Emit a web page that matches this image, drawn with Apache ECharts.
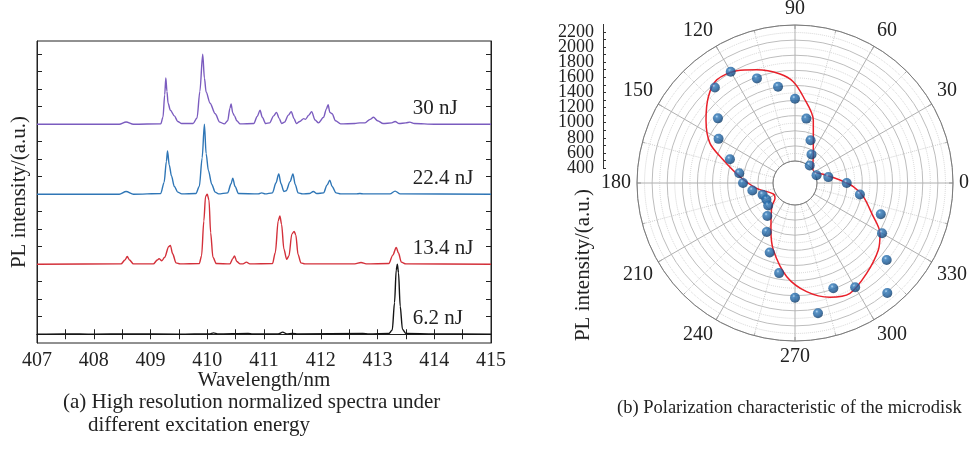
<!DOCTYPE html>
<html>
<head>
<meta charset="utf-8">
<script src="https://cdn.jsdelivr.net/npm/echarts@6/dist/echarts.min.js"></script>
<style>
  html, body { margin: 0; padding: 0; background: #fff; }
  #main { width: 970px; height: 450px; }
</style>
</head>
<body>
<div id="main"></div>
<script>
// ---- (a) spectra, normalized intensity, [wavelength nm, I] ----
var traceNames = ['6.2 nJ', '13.4 nJ', '22.4 nJ', '30 nJ'];
var traceColors = ['#141414', '#d3303a', '#2f76b6', '#7b5cbf'];
var traceOffsets = [0, 1, 2, 3];

var spec62 = [
  [407, 0], [407.5, 0.005], [408, 0], [408.6, 0.005], [409.5, 0], [410.05, 0.005], [410.11, 0.02], [410.18, 0.005],
  [410.72, 0.012], [410.8, 0.003], [411.25, 0.005], [411.33, 0.03], [411.4, 0.005], [411.5, 0.012], [411.6, 0.004],
  [412.74, 0.012], [412.85, 0.005], [413.2, 0.01], [413.26, 0.06], [413.3, 0.45], [413.33, 0.92], [413.35, 1.0],
  [413.37, 0.88], [413.4, 0.4], [413.44, 0.07], [413.5, 0.01], [414, 0.005], [415, 0]
];
var spec134 = [
  [407, 0], [408.48, 0.005], [408.55, 0.06], [408.59, 0.11], [408.63, 0.06], [408.7, 0.005],
  [409.05, 0.005], [409.12, 0.06], [409.15, 0.08], [409.2, 0.05], [409.25, 0.1], [409.32, 0.25], [409.35, 0.27],
  [409.39, 0.15], [409.45, 0.02], [409.52, 0.005],
  [409.86, 0.01], [409.9, 0.12], [409.94, 0.62], [409.97, 0.97], [410.0, 1.0], [410.03, 0.92], [410.06, 0.45],
  [410.1, 0.1], [410.16, 0.01],
  [410.4, 0.005], [410.45, 0.08], [410.48, 0.12], [410.52, 0.04], [410.58, 0.005],
  [410.63, 0.005], [410.69, 0.03], [410.75, 0.005],
  [411.15, 0.01], [411.2, 0.17], [411.25, 0.62], [411.28, 0.69], [411.31, 0.57], [411.35, 0.22], [411.4, 0.07],
  [411.44, 0.12], [411.49, 0.43], [411.53, 0.47], [411.56, 0.42], [411.6, 0.14], [411.65, 0.02], [411.72, 0.005],
  [412.6, 0.005], [412.71, 0.025], [412.8, 0.005],
  [413.2, 0.01], [413.27, 0.13], [413.33, 0.24], [413.37, 0.16], [413.42, 0.03], [413.5, 0.005], [415, 0]
];
var spec224 = [
  [407, 0], [408.45, 0], [408.57, 0.04], [408.7, 0],
  [409.18, 0.01], [409.24, 0.17], [409.28, 0.47], [409.3, 0.62], [409.33, 0.42], [409.37, 0.26], [409.42, 0.11],
  [409.48, 0.03], [409.55, 0.005],
  [409.8, 0.01], [409.86, 0.11], [409.91, 0.52], [409.95, 1.0], [409.98, 0.58], [410.02, 0.34], [410.08, 0.14],
  [410.14, 0.03], [410.2, 0.005],
  [410.36, 0.02], [410.42, 0.15], [410.45, 0.23], [410.49, 0.11], [410.55, 0.01],
  [410.9, 0.005], [410.96, 0.02], [411.02, 0.005],
  [411.15, 0.02], [411.21, 0.16], [411.26, 0.29], [411.3, 0.15], [411.35, 0.04], [411.39, 0.05], [411.46, 0.18],
  [411.51, 0.29], [411.55, 0.14], [411.6, 0.02], [411.68, 0.005],
  [411.8, 0.01], [411.87, 0.04], [411.93, 0.01],
  [412.05, 0.02], [412.11, 0.13], [412.16, 0.2], [412.2, 0.11], [412.27, 0.02], [412.35, 0.005],
  [412.62, 0.005], [412.69, 0.01], [412.76, 0.005],
  [413.22, 0.005], [413.31, 0.045], [413.4, 0.005], [415, 0]
];
var spec30 = [
  [407, 0], [408.45, 0], [408.57, 0.033], [408.7, 0],
  [409.18, 0.005], [409.22, 0.1], [409.25, 0.42], [409.27, 0.66], [409.29, 0.47], [409.31, 0.3], [409.35, 0.2],
  [409.42, 0.12], [409.48, 0.04], [409.55, 0.01],
  [409.75, 0.01], [409.82, 0.09], [409.87, 0.47], [409.92, 1.0], [409.95, 0.66], [409.98, 0.46], [410.05, 0.3],
  [410.14, 0.15], [410.22, 0.03], [410.3, 0.005],
  [410.36, 0.05], [410.4, 0.23], [410.42, 0.29], [410.45, 0.16], [410.48, 0.12], [410.52, 0.05], [410.58, 0.005],
  [410.82, 0.01], [410.88, 0.11], [410.93, 0.2], [410.97, 0.1], [411.03, 0.01],
  [411.1, 0.02], [411.17, 0.12], [411.22, 0.17], [411.27, 0.08], [411.31, 0.01],
  [411.36, 0.03], [411.43, 0.13], [411.48, 0.18], [411.53, 0.08], [411.57, 0.01],
  [411.63, 0.04], [411.7, 0.08], [411.73, 0.07], [411.79, 0.13], [411.84, 0.18], [411.9, 0.06], [411.96, 0.02],
  [412.05, 0.1], [412.1, 0.22], [412.13, 0.28], [412.16, 0.17], [412.2, 0.15], [412.26, 0.05], [412.35, 0.005],
  [412.6, 0.01], [412.69, 0.02], [412.78, 0.02], [412.87, 0.07], [412.93, 0.1], [413.0, 0.05], [413.1, 0.01],
  [413.25, 0.02], [413.31, 0.04], [413.38, 0.01], [413.5, 0.02], [413.57, 0.03], [413.65, 0.01], [414, 0], [415, 0]
];
var spectra = [spec62, spec134, spec224, spec30];
var wlTicks = [407, 408, 409, 410, 411, 412, 413, 414, 415];

// ---- (b) polarization: measured points [intensity, angle deg] ----
var polAngles = [0, 10, 20, 30, 40, 50, 60, 70, 80, 90, 100, 110, 120, 130, 140, 150, 160, 170,
  180, 190, 200, 210, 220, 230, 240, 250, 260, 270, 280, 290, 300, 310, 320, 330, 340, 350];
var polValues = [793, 557, 412, 395, 385, 412, 546, 711, 974, 1223, 1403, 1582, 1810, 1759, 1440, 1277, 1025, 858,
  797, 682, 565, 546, 572, 679, 857, 1087, 1320, 1627, 1860, 1591, 1701, 2009, 1693, 1439, 1317, 981];
// fitted curve
var fitAngles = [3.8, 17.1, 30.7, 41.6, 55.2, 66.9, 73.8, 84.5, 91, 97.8, 108.7, 117.4, 127.2, 135.1, 144.7, 155,
  162.2, 173.5, 187.9, 206.9, 217.4, 225.5, 242.9, 252.1, 265, 276.1, 287, 296.5, 308.4, 321.2, 329.4, 338.4,
  348.7, 356.4, 363.8];
var fitValues = [706, 500, 400, 422, 532, 727, 977, 1256, 1450, 1565, 1690, 1783, 1822, 1727, 1552, 1350,
  1105, 842, 621, 430, 442, 548, 808, 1041, 1354, 1555, 1690, 1740, 1635, 1524, 1416, 1201,
  1031, 882, 706];
var radialTicks = [400, 600, 800, 1000, 1200, 1400, 1600, 1800, 2000, 2200];

var FONT = '"Liberation Serif", "Times New Roman", serif';
var chart = echarts.init(document.getElementById('main'));

var yTickVals = [];
for (var i = 0; i <= 16; i++) yTickVals.push(i * 0.25);

var series = spectra.map(function (s, k) {
  return {
    type: 'line',
    xAxisIndex: 0, yAxisIndex: 0,
    data: s.map(function (p) { return [p[0], p[1] + traceOffsets[k]]; }),
    showSymbol: false,
    smooth: 0.3,
    smoothMonotone: 'x',
    lineStyle: { color: traceColors[k], width: 1.4 },
    silent: true,
    z: 3 + k
  };
});

series.push({
  type: 'line',
  coordinateSystem: 'polar',
  data: fitValues.map(function (v, i) { return [v, fitAngles[i]]; }),
  showSymbol: false,
  smooth: 0.3,
  lineStyle: { color: '#e8202a', width: 1.5 },
  z: 5
});
series.push({
  type: 'scatter',
  coordinateSystem: 'polar',
  data: polValues.map(function (v, i) { return [v, polAngles[i]]; }),
  symbolSize: 10,
  itemStyle: {
    color: {
      type: 'radial', x: 0.38, y: 0.32, r: 0.7,
      colorStops: [
        { offset: 0, color: '#a9d0f0' },
        { offset: 0.22, color: '#2f78b8' },
        { offset: 0.7, color: '#165592' },
        { offset: 1, color: '#0b355f' }
      ]
    }
  },
  z: 6
});

var axisText = { fontFamily: FONT, fontSize: 21, color: '#222' };

chart.setOption({
  animation: false,
  grid: [
    { left: 37, top: 41, width: 454, height: 302, show: true, borderColor: '#222', borderWidth: 1, outerBoundsMode: 'none', containLabel: false },
    { left: 603, top: 24.4, width: 10, height: 143.6, outerBoundsMode: 'none', containLabel: false }
  ],
  xAxis: [
    {
      gridIndex: 0, type: 'value', min: 407, max: 415, interval: 0.5, position: 'bottom',
      axisLine: { lineStyle: { color: '#222' } },
      axisTick: { inside: true, length: 5, lineStyle: { color: '#222' } },
      axisLabel: { margin: 8, fontFamily: FONT, fontSize: 20, color: '#222',
        formatter: function (v) { return wlTicks.indexOf(v) >= 0 ? v : ''; } },
      splitLine: { show: false },
      name: 'Wavelength/nm', nameLocation: 'middle', nameGap: 27, nameMoveOverlap: false,
      nameTextStyle: axisText
    },
    {
      gridIndex: 0, type: 'value', min: 407, max: 415, interval: 0.5, position: 'top',
      axisLine: { lineStyle: { color: '#222' } },
      axisTick: { inside: true, length: 5, lineStyle: { color: '#222' } },
      axisLabel: { show: false }, splitLine: { show: false }
    },
    {
      gridIndex: 1, type: 'value', min: 0, max: 1,
      axisLine: { show: false }, axisTick: { show: false }, axisLabel: { show: false }, splitLine: { show: false }
    }
  ],
  yAxis: [
    {
      gridIndex: 0, type: 'value', min: -0.125, max: 4.189, position: 'left',
      axisLine: { lineStyle: { color: '#222' } },
      axisTick: { inside: true, length: 5, customValues: yTickVals, lineStyle: { color: '#222' } },
      axisLabel: { show: false }, splitLine: { show: false },
      name: 'PL intensity/(a.u.)', nameLocation: 'middle', nameGap: 7, nameMoveOverlap: false,
      nameTextStyle: axisText
    },
    {
      gridIndex: 0, type: 'value', min: -0.125, max: 4.189, position: 'right',
      axisLine: { lineStyle: { color: '#222' } },
      axisTick: { inside: true, length: 5, customValues: yTickVals, lineStyle: { color: '#222' } },
      axisLabel: { show: false }, splitLine: { show: false }
    },
    {
      gridIndex: 1, type: 'value', min: 400, max: 2300, interval: 100, position: 'left',
      axisLine: { show: true, onZero: false, lineStyle: { color: '#333', width: 1 } },
      axisTick: { show: true, inside: true, length: 3, lineStyle: { color: '#333' } },
      axisLabel: {
        margin: 9, fontFamily: FONT, fontSize: 18, color: '#222',
        showMinLabel: true, showMaxLabel: false, hideOverlap: false,
        formatter: function (v) { return radialTicks.indexOf(v) >= 0 ? String(v) : ''; }
      },
      splitLine: { show: false }
    }
  ],
  polar: { center: [795, 183], radius: [22, 158] },
  angleAxis: {
    type: 'value', min: 0, max: 360, interval: 30, startAngle: 0, clockwise: false,
    axisLine: { lineStyle: { color: '#7a7a7a', width: 1 } },
    axisTick: { show: true, inside: true, length: 4, lineStyle: { color: '#7a7a7a' } },
    minorTick: { show: true, splitNumber: 2, length: 3, lineStyle: { color: '#9a9a9a' } },
    axisLabel: {
      margin: 6, fontFamily: FONT, fontSize: 20, color: '#222',
      formatter: function (v) { return v >= 360 ? '' : v; }
    },
    splitLine: { show: true, lineStyle: { color: '#b0b0b0', width: 1 } },
    minorSplitLine: { show: true, lineStyle: { color: '#cfcfcf', type: 'dotted' } }
  },
  radiusAxis: {
    type: 'value', min: 400, max: 2200, interval: 200,
    axisLine: { show: false }, axisTick: { show: false }, axisLabel: { show: false },
    minorTick: { show: false, splitNumber: 2 },
    splitLine: { show: true, lineStyle: { color: '#bdbdbd', width: 1 } },
    minorSplitLine: { show: true, lineStyle: { color: '#d2d2d2', type: 'dotted' } }
  },
  series: series
});

// text labels
var graphics = [];
traceNames.forEach(function (name, k) {
  var p = chart.convertToPixel({ xAxisIndex: 0, yAxisIndex: 0 }, [413.62, traceOffsets[k] + 0.23]);
  graphics.push({
    type: 'text', x: p[0], y: p[1],
    style: { text: name, font: '21px ' + FONT, fill: '#222', align: 'left', verticalAlign: 'middle' }
  });
});
graphics.push({
  type: 'text', x: 63, y: 402,
  style: { text: '(a) High resolution normalized spectra under', font: '21px ' + FONT, fill: '#222', verticalAlign: 'middle' }
});
graphics.push({
  type: 'text', x: 88, y: 425,
  style: { text: 'different excitation energy', font: '21px ' + FONT, fill: '#222', verticalAlign: 'middle' }
});
graphics.push({
  type: 'text', x: 617, y: 408,
  style: { text: '(b) Polarization characteristic of the microdisk', font: '18.5px ' + FONT, fill: '#222', verticalAlign: 'middle' }
});
graphics.push({
  type: 'text', x: 583, y: 265, rotation: Math.PI / 2,
  style: { text: 'PL intensity/(a.u.)', font: '21px ' + FONT, fill: '#222', align: 'center', verticalAlign: 'middle' }
});
chart.setOption({ graphic: graphics });
</script>
</body>
</html>
